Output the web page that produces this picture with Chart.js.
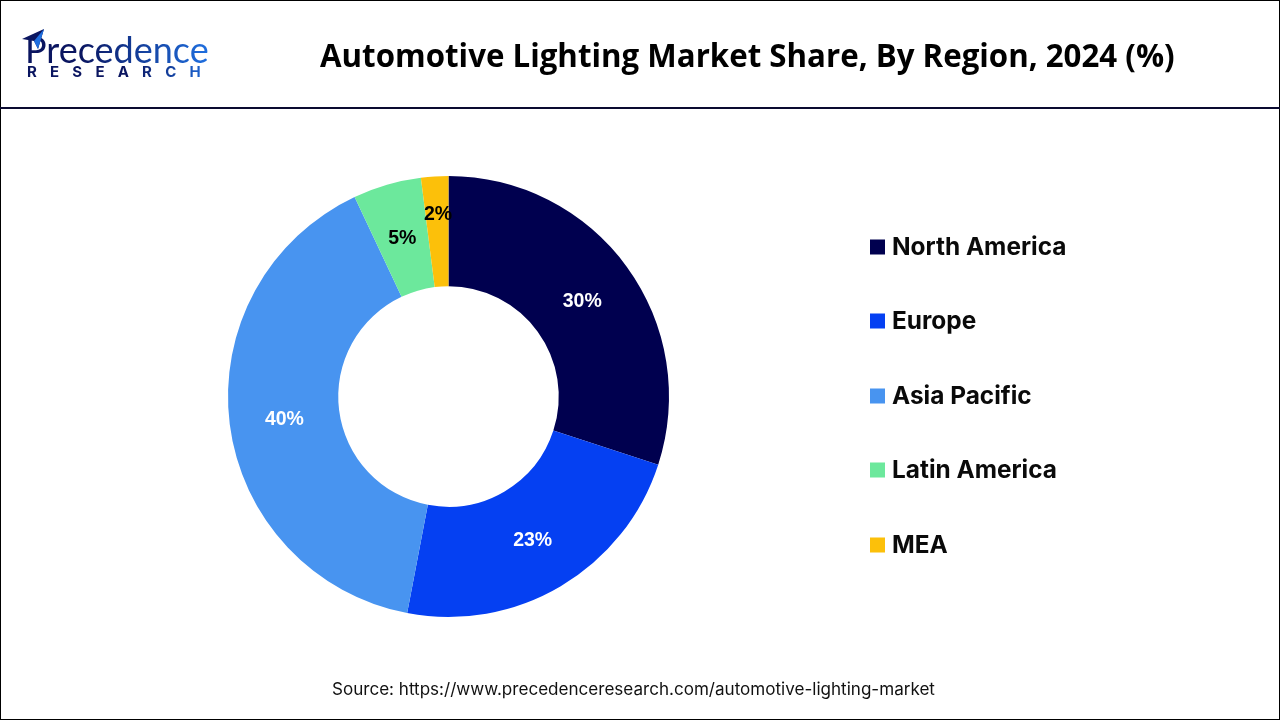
<!DOCTYPE html>
<html><head><meta charset="utf-8">
<style>
html,body{margin:0;padding:0;background:#fff;}
#wrap{position:relative;width:1280px;height:720px;overflow:hidden;font-family:"Liberation Sans",Arial,sans-serif;}
#frame{position:absolute;left:0;top:0;width:1278px;height:718px;border:1px solid #000;}
#rule{position:absolute;left:0;top:107px;width:1280px;height:2px;background:#0a0a30;}
#title{position:absolute;left:320px;top:35px;font-family:"Open Sans",sans-serif;font-weight:700;font-size:31.25px;line-height:40px;color:#000;white-space:nowrap;}
#src{position:absolute;left:332px;top:679px;font-family:"Inter",sans-serif;font-size:17.07px;line-height:20px;color:#111;white-space:nowrap;}
#logo1{position:absolute;left:25px;top:27px;font-family:"Lato",sans-serif;font-weight:400;font-size:36px;line-height:44px;white-space:nowrap;background:linear-gradient(90deg,#0a1560 0%,#0a1560 30%,#1f6fe0 100%);-webkit-background-clip:text;background-clip:text;color:transparent;}
#logo2{position:absolute;left:27px;top:63px;font-family:"Inter",sans-serif;font-weight:700;font-size:15px;line-height:18px;white-space:nowrap;letter-spacing:13.2px;background:linear-gradient(90deg,#0a1560 0%,#0a1560 55%,#1f6fe0 100%);-webkit-background-clip:text;background-clip:text;color:transparent;}
#plane{position:absolute;left:22px;top:28px;}
canvas{position:absolute;left:0;top:0;}
</style></head><body>
<div id="wrap">
<canvas id="c" width="1280" height="720"></canvas>
<div id="frame"></div><div id="rule"></div>
<div id="logo1">Precedence</div><div id="logo2">RESEARCH</div>
<svg id="plane" width="26" height="24" viewBox="0 0 26 24"><path d="M0 11 L22 1 L16 21 L12 13 Z" fill="#0a1560"/><path d="M22 1 L12 13 L16 21 Z" fill="#1f6fe0"/></svg>
<div id="title">Automotive Lighting Market Share, By Region, 2024 (%)</div>
<div id="src">Source: https://www.precedenceresearch.com/automotive-lighting-market</div>
</div>
<script src="https://cdn.jsdelivr.net/npm/chart.js@4"></script>
<script>
const regions=["North America","Europe","Asia Pacific","Latin America","MEA"];
const shares=[30,23,40,5,2];
const sliceColors=["#00004f","#0540f2","#4894f0","#6ce89c","#fcc00a"];
const labelColors=["#fff","#fff","#fff","#000","#000"];
const valueLabels={
 id:'valueLabels',
 afterDatasetsDraw(ch){
  const c=ch.ctx,m=ch.getDatasetMeta(0);
  c.save();c.font='bold 19.5px "Liberation Sans"';c.textAlign='center';c.textBaseline='middle';
  m.data.forEach((a,i)=>{
   const p=a.tooltipPosition();
   const dy=i===4?-17:(i===3?1:2);
   c.fillStyle=labelColors[i];c.fillText(shares[i]+'%',p.x,p.y+dy);
  });
  c.restore();
 }
};
new Chart(document.getElementById('c'),{
 type:'doughnut',
 data:{labels:regions,datasets:[{data:shares,backgroundColor:sliceColors,borderWidth:0}]},
 options:{
  responsive:false,animation:false,cutout:'50%',
  layout:{padding:{left:228,top:176,right:611,bottom:103}},
  plugins:{legend:{display:false},tooltip:{enabled:false},title:{display:false}}
 },
 plugins:[valueLabels,{
  id:'sideLegend',
  afterDraw(ch){
   const c=ch.ctx;const ys=[247,321,396,470,545];
   c.save();c.textBaseline='middle';c.textAlign='left';c.font='bold 24.4px "Inter"';
   regions.forEach((r,i)=>{c.fillStyle=sliceColors[i];c.fillRect(870,ys[i]-7.5,15,15);c.fillStyle='#0a0a0a';c.fillText(r,892,ys[i]+1);});
   c.restore();
  }
 }]
});
</script></body></html>
